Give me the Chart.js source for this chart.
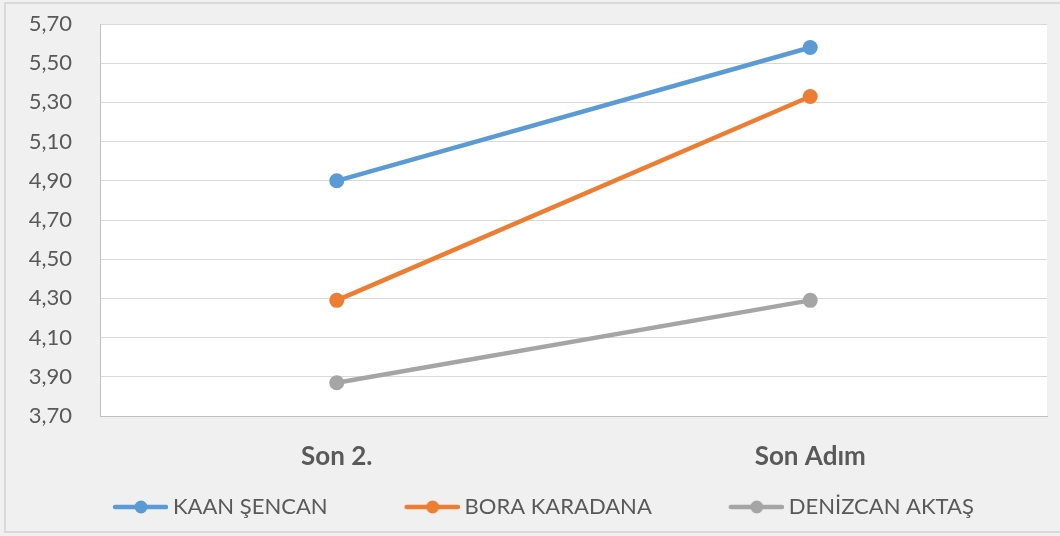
<!DOCTYPE html>
<html>
<head>
<meta charset="utf-8">
<script src="https://cdn.jsdelivr.net/npm/chart.js@4/dist/chart.umd.min.js"></script>
<style>
  body { margin: 0; background: #f0f0f0; }
</style>
</head>
<body>
<canvas id="myChart" width="1060" height="536"></canvas>
<script>
let categories = ["Son 2.", "Son Adım"];
let kaan = [4.90, 5.58];
let bora = [4.29, 5.33];
let denizcan = [3.87, 4.29];
let seriesNames = ["KAAN ŞENCAN", "BORA KARADANA", "DENİZCAN AKTAŞ"];
let seriesColors = ["#5b9bd5", "#ed7d31", "#a5a5a5"];
let yTicks = [3.70, 3.90, 4.10, 4.30, 4.50, 4.70, 4.90, 5.10, 5.30, 5.50, 5.70];

let fontName = "Lato, 'Open Sans', sans-serif";
let textColor = "#595959";

// little line+dot picture for each legend entry
function legendMarker(color) {
  let c = document.createElement("canvas");
  c.width = 128;
  c.height = 16;
  let ctx = c.getContext("2d");
  ctx.strokeStyle = color;
  ctx.lineWidth = 4.5;
  ctx.lineCap = "round";
  ctx.beginPath();
  ctx.moveTo(75, 8);
  ctx.lineTo(126, 8);
  ctx.stroke();
  ctx.fillStyle = color;
  ctx.beginPath();
  ctx.arc(101, 8, 6.5, 0, Math.PI * 2);
  ctx.fill();
  return c;
}
let markers = seriesColors.map(legendMarker);

let background = {
  id: "background",
  beforeDraw(chart) {
    let ctx = chart.ctx;
    let a = chart.chartArea;
    ctx.save();
    ctx.fillStyle = "#f0f0f0";
    ctx.fillRect(0, 0, chart.width, chart.height);
    ctx.strokeStyle = "#d9d9d9";
    ctx.lineWidth = 2;
    ctx.strokeRect(5, 3, chart.width + 10, chart.height - 7);
    ctx.fillStyle = "#ffffff";
    ctx.fillRect(a.left, a.top, a.right - a.left, a.bottom - a.top);
    ctx.restore();
  }
};

let values = [kaan, bora, denizcan];

new Chart("myChart", {
  type: "line",
  data: {
    labels: categories,
    datasets: seriesNames.map(function (name, i) {
      return {
        label: name,
        data: values[i],
        borderColor: seriesColors[i],
        backgroundColor: seriesColors[i],
        pointBackgroundColor: seriesColors[i],
        pointBorderWidth: 0,
        pointRadius: 7.5,
        borderWidth: 4.5,
        tension: 0,
        fill: false
      };
    })
  },
  options: {
    responsive: false,
    animation: false,
    layout: {
      padding: { top: 24, left: 36, right: 13, bottom: 8 }
    },
    scales: {
      x: {
        offset: true,
        grid: { display: false, drawTicks: false },
        border: { color: "#bfbfbf", width: 1 },
        ticks: {
          color: textColor,
          padding: 25,
          font: { family: fontName, size: 26, weight: "bold" }
        },
        afterFit(scale) { scale.height = 70; }
      },
      y: {
        min: 3.7,
        max: 5.7,
        afterBuildTicks(scale) {
          scale.ticks = yTicks.map(v => ({ value: v }));
        },
        grid: { color: "#d9d9d9", lineWidth: 1, drawTicks: false },
        border: { color: "#bfbfbf", width: 1 },
        ticks: {
          color: textColor,
          padding: 28,
          font: { family: fontName, size: 22 },
          callback: v => v.toFixed(2).replace(".", ",")
        },
        afterFit(scale) {
          scale.width = 64;
          scale.paddingTop = 0;
          scale.paddingBottom = 0;
          // labels stick out left of the axis box, don't clip them
          scale._computeLabelArea = function () { return undefined; };
        }
      }
    },
    plugins: {
      tooltip: { enabled: false },
      legend: {
        position: "bottom",
        align: "start",
        labels: {
          usePointStyle: true,
          pointStyleWidth: 116,
          padding: 10,
          color: textColor,
          font: { family: fontName, size: 22 },
          generateLabels(chart) {
            let items = Chart.defaults.plugins.legend.labels.generateLabels(chart);
            items.forEach((it, i) => { it.pointStyle = markers[i]; });
            return items;
          }
        }
      }
    }
  },
  plugins: [background]
});
</script>
</body>
</html>
